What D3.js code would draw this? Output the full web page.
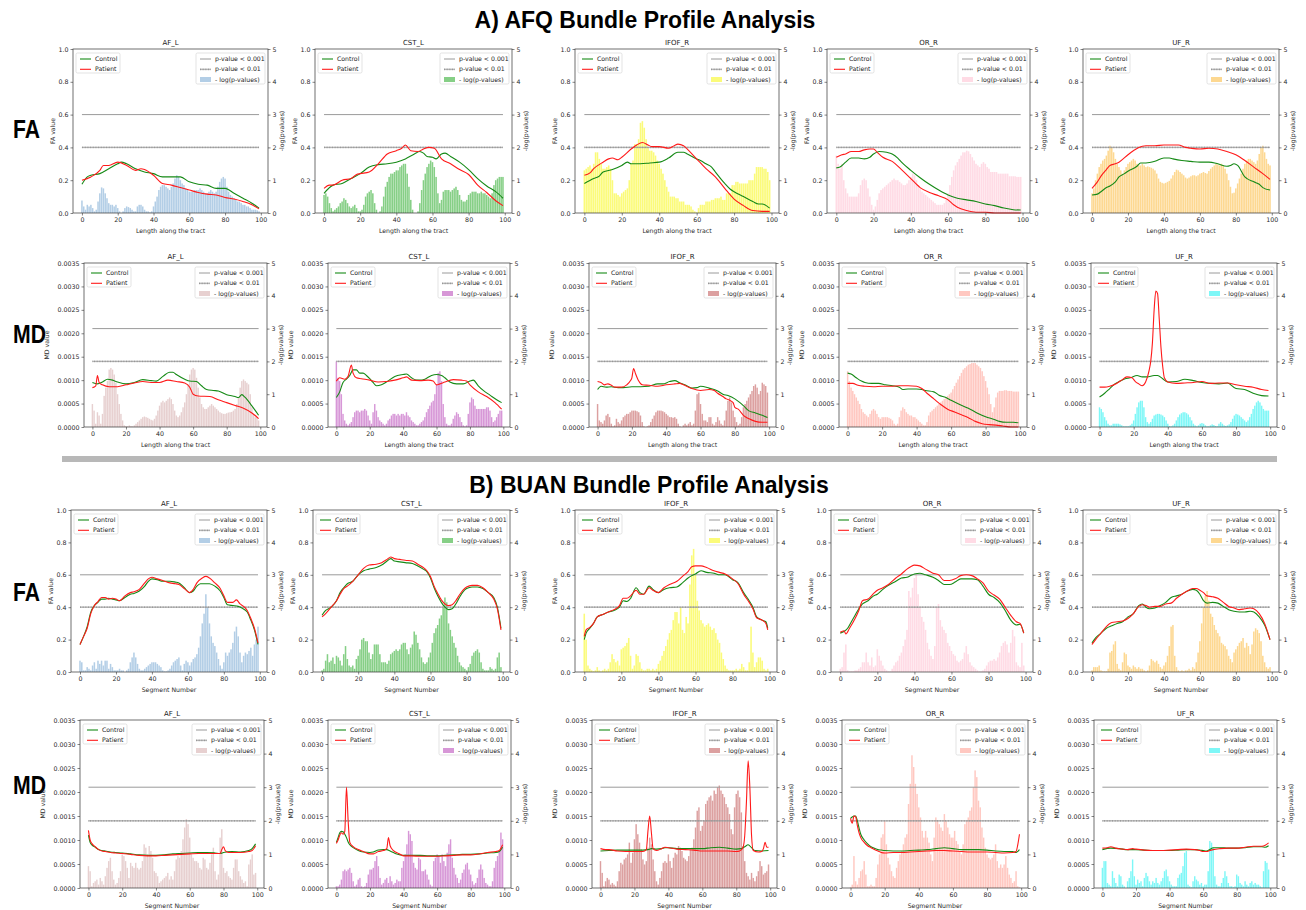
<!DOCTYPE html>
<html>
<head>
<meta charset="utf-8">
<script src="https://cdn.jsdelivr.net/npm/d3@7"></script>
<style>
  body { margin: 0; background: #fff; }
  text { font-family: "DejaVu Sans", sans-serif; }
</style>
</head>
<body>
<script>
"use strict";

const bundles = ["AF_L", "CST_L", "IFOF_R", "OR_R", "UF_R"];
const xTicks = [0, 20, 40, 60, 80, 100];
const faTicks = [0, 0.2, 0.4, 0.6, 0.8, 1.0];
const mdTicks = [0, 0.0005, 0.001, 0.0015, 0.002, 0.0025, 0.003, 0.0035];
const pTicks = [0, 1, 2, 3, 4, 5];
const pThresholds = [3, 2];          // -log10(0.001), -log10(0.01)
const MD_UNIT = 1e-3;                // MD profiles below are written in 1e-3 units

// -log(p) per segment (0..99)
const afqFaBars = [
  [0.38,0.2,0.1,0.25,0.2,0.25,0.15,0.05,0.1,0.35, 0.6,0.78,0.75,0.6,0.45,0.3,0.25,0.25,0.2,0.25,
   0.15,0.05,0,0.05,0.15,0.2,0.18,0.15,0.1,0.05, 0.05,0.2,0.25,0.25,0.2,0.1,0.05,0.05,0.02,0.05,
   0.2,0.35,0.5,0.7,0.8,0.85,0.85,0.8,0.75,0.7, 0.8,0.9,1.05,1.15,1.1,1.0,0.9,0.85,0.75,0.7,
   0.65,0.65,0.65,0.7,0.7,0.7,0.75,0.7,0.65,0.6, 0.6,0.65,0.7,0.65,0.6,0.65,0.8,0.95,1.05,1.1,
   1.05,0.8,0.65,0.55,0.5,0.45,0.4,0.35,0.35,0.3, 0.25,0.25,0.2,0.2,0.15,0.1,0.1,0.1,0.08,0.05],
  [0.55,0.6,0.5,0.3,0.15,0.05,0.1,0.15,0.2,0.3, 0.35,0.45,0.4,0.3,0.2,0.15,0.2,0.25,0.15,0.05,
   0.05,0.1,0.25,0.5,0.6,0.65,0.7,0.6,0.3,0.1, 0,0.05,0.2,0.5,0.8,0.95,1.1,1.2,1.2,1.25,
   1.3,1.3,1.4,1.45,1.5,1.5,1.2,0.8,0.4,0.1, 0,0,0.05,0.3,0.7,1.0,1.2,1.4,1.5,1.6,
   1.55,1.4,1.1,0.6,0.3,0.4,0.65,0.7,0.7,0.7, 0.65,0.7,0.75,0.8,0.7,0.55,0.4,0.35,0.35,0.4,
   0.55,0.6,0.65,0.65,0.65,0.6,0.6,0.65,0.6,0.6, 0.55,0.5,0.45,0.6,0.85,1.0,1.05,1.1,1.1,1.1],
  [1.3,1.35,1.4,1.45,1.35,1.5,1.85,1.85,1.65,1.5, 1.35,1.35,1.4,1.45,1.35,1.0,0.6,0.6,0.55,0.5,
   0.6,0.65,0.7,0.75,1.0,1.5,1.6,2.1,2.1,2.25, 2.75,2.8,2.6,2.25,2.0,1.9,1.9,1.85,1.75,1.6,
   1.5,1.35,1.2,1.0,0.8,0.65,0.5,0.5,0.5,0.45, 0.45,0.35,0.35,0.35,0.25,0.25,0.25,0.2,0.1,0.05,
   0.02,0.15,0.25,0.25,0.25,0.35,0.35,0.35,0.4,0.4, 0.45,0.45,0.45,0.5,0.4,0.4,0.6,0.6,0.6,0.85,
   0.85,0.95,0.95,0.9,0.9,0.9,0.9,0.9,1.0,1.0, 1.0,1.2,1.4,1.4,1.4,1.4,1.35,1.35,1.25,1.0],
  [1.75,1.5,1.35,1.5,1.0,0.75,0.6,0.5,0.5,0.5, 0.5,0.5,0.6,0.85,1.0,1.05,1.0,0.75,0.5,0.25,
   0.1,0.2,0.4,0.6,0.7,0.75,0.8,0.85,0.9,0.95, 1.0,1.05,1.0,1.0,0.95,0.9,0.85,0.85,0.9,1.0,
   1.1,1.2,1.15,1.0,0.85,0.75,0.65,0.6,0.55,0.5, 0.45,0.4,0.35,0.3,0.25,0.25,0.25,0.25,0.3,0.4,
   0.6,0.85,1.1,1.3,1.45,1.55,1.65,1.75,1.85,1.85, 1.9,1.88,1.8,1.7,1.6,1.5,1.45,1.4,1.5,1.55,
   1.5,1.4,1.35,1.25,1.25,1.25,1.25,1.2,1.2,1.2, 1.2,1.2,1.2,1.12,1.12,1.12,1.12,1.1,1.1,1.1],
  [0.6,0.75,1.0,1.2,1.4,1.5,1.6,1.65,1.75,1.9, 2.05,2.0,1.85,1.65,1.5,1.4,1.3,1.2,1.3,1.4,
   1.5,1.55,1.6,1.65,1.6,1.5,1.45,1.45,1.5,1.45, 1.4,1.42,1.4,1.38,1.35,1.3,1.2,1.05,0.95,0.92,
   0.9,0.92,0.95,0.98,1.05,1.15,1.25,1.32,1.3,1.25, 1.2,1.15,1.08,1.05,1.08,1.12,1.15,1.15,1.12,1.15,
   1.2,1.22,1.25,1.22,1.2,1.28,1.35,1.4,1.45,1.5, 1.48,1.45,1.5,1.45,1.35,1.2,1.0,0.8,0.6,0.62,
   0.75,0.9,1.05,1.2,1.35,1.5,1.6,1.65,1.65,1.6, 1.55,1.5,1.6,1.8,2.0,2.05,1.85,1.65,1.5,1.45]
];

const afqMdBars = [
  [0.7,0.5,0.1,0.45,0.35,0.1,0.4,0.95,1.2,1.4, 1.75,1.8,1.75,1.6,1.35,1.0,0.7,0.4,0.2,0.05,
   0.03,0.02,0.05,0.03,0.02,0.05,0.1,0.15,0.2,0.25, 0.3,0.32,0.3,0.28,0.25,0.22,0.2,0.25,0.35,0.5,
   0.65,0.75,0.8,0.75,0.8,0.85,0.9,0.85,0.7,0.5, 0.35,0.3,0.35,0.45,0.6,0.75,1.0,1.3,1.6,1.75,
   1.8,1.75,1.5,1.2,0.9,0.7,0.6,0.55,0.55,0.6, 0.65,0.7,0.65,0.6,0.55,0.5,0.45,0.42,0.4,0.4,
   0.42,0.44,0.45,0.46,0.5,0.55,0.7,0.9,1.2,1.4, 1.45,1.4,1.35,1.3,1.0,0.6,0.4,0.3,0.3,0.2],
  [2.0,1.5,1.4,1.0,0.4,0.2,0.1,0.05,0.1,0.15, 0.3,0.45,0.5,0.5,0.45,0.5,0.5,0.55,0.5,0.35,
   0.2,0.1,0.45,0.7,0.5,0.3,0.2,0.15,0.1,0.05, 0.1,0.2,0.25,0.35,0.4,0.4,0.35,0.4,0.35,0.4,
   0.4,0.35,0.45,0.35,0.3,0.2,0.15,0.1,0.05,0.05, 0.1,0.15,0.2,0.3,0.45,0.55,0.65,0.75,0.8,1.0,
   1.3,1.65,1.7,1.4,0.7,0.3,0.1,0.05,0.05,0.1, 0.25,0.35,0.45,0.4,0.3,0.15,0.05,0.02,0.05,0.4,
   0.75,0.9,0.85,0.65,0.55,0.55,0.55,0.55,0.55,0.55, 0.6,0.6,0.5,0.3,0.15,0.2,0.3,0.4,0.5,0.5],
  [0.7,0.2,0.15,0.1,0.2,0.35,0.4,0.3,0.1,0.02, 0.05,0.25,0.15,0.1,0.2,0.3,0.35,0.4,0.4,0.45,
   0.5,0.5,0.5,0.48,0.45,0.35,0.15,0.02,0,0.02, 0.05,0.15,0.25,0.35,0.45,0.5,0.5,0.5,0.48,0.45,
   0.4,0.35,0.3,0.3,0.28,0.3,0.25,0.1,0.02,0, 0.05,0.1,0.05,0.1,0.15,0.05,0.1,0.5,1.0,1.05,
   0.7,0.4,0.2,0.2,0.15,0.3,0.3,0.1,0.05,0.15, 0.3,0.2,0.1,0.05,0.2,0.5,0.8,0.9,0.75,0.5,
   0.3,0.15,0.05,0.1,0.3,0.6,0.7,0.8,0.9,1.0, 1.1,1.25,1.3,1.2,1.0,1.1,1.35,1.3,1.25,1.05],
  [1.7,1.4,1.2,1.1,1.0,0.9,0.8,0.7,0.55,0.45, 0.4,0.35,0.3,0.4,0.5,0.55,0.5,0.4,0.3,0.25,
   0.3,0.3,0.3,0.3,0.28,0.25,0.2,0.1,0.05,0.1, 0.3,0.5,0.6,0.55,0.45,0.4,0.35,0.35,0.3,0.3,
   0.25,0.2,0.15,0.1,0.05,0.05,0.15,0.35,0.45,0.5, 0.55,0.6,0.65,0.7,0.75,0.8,0.85,0.9,0.95,1.0,
   1.05,1.15,1.25,1.35,1.45,1.55,1.65,1.75,1.8,1.85, 1.9,1.92,1.95,1.95,1.95,1.9,1.85,1.8,1.7,1.55,
   1.4,1.2,1.0,0.7,0.45,0.6,0.9,1.05,1.1,1.1, 1.1,1.12,1.12,1.1,1.1,1.1,1.08,1.08,1.08,1.08],
  [0.6,0.55,0.45,0.3,0.2,0.1,0.05,0.05,0.1,0.1, 0.1,0.1,0.08,0.05,0.02,0.02,0.02,0.02,0.05,0.1,
   0.2,0.4,0.6,0.75,0.8,0.8,0.6,0.3,0.15,0.1, 0.15,0.25,0.35,0.38,0.4,0.4,0.38,0.35,0.3,0.2,
   0.1,0.03,0.02,0.05,0.1,0.2,0.3,0.38,0.42,0.45, 0.45,0.42,0.38,0.3,0.2,0.1,0.05,0.02,0.05,0.1,
   0.12,0.1,0.05,0.02,0.02,0.05,0.08,0.06,0.03,0.02, 0.1,0.15,0.1,0.05,0.03,0.05,0.08,0.15,0.25,0.35,
   0.4,0.38,0.35,0.3,0.25,0.2,0.15,0.2,0.3,0.4, 0.55,0.65,0.75,0.8,0.75,0.65,0.55,0.5,0.5,0.5]
];

const buanFaBars = [
  [0.35,0.3,0.05,0.05,0.15,0.1,0.05,0.2,0.3,0.1, 0.35,0.25,0.35,0.2,0.35,0.35,0.1,0.25,0.15,0.05,
   0.05,0.05,0.1,0.05,0.05,0,0.05,0.1,0.3,0.45, 0.6,0.45,0.25,0.1,0.05,0.05,0.1,0.15,0.2,0.25,
   0.3,0.3,0.3,0.25,0.2,0.15,0.05,0.02,0.02,0.05, 0.1,0.2,0.3,0.35,0.4,0.45,0.2,0.05,0.25,0.35,
   0.3,0.2,0.3,0.4,0.45,0.55,0.75,1.1,1.5,1.8, 2.4,2.0,1.5,1.1,0.9,0.8,0.6,0.4,0.2,0.1,
   0.3,0.6,0.5,0.6,0.7,0.9,1.25,1.4,1.1,0.6, 0.3,0.5,0.6,0.55,0.65,0.75,0.5,0.85,1.0,1.4],
  [0.05,0.1,0.35,0.55,0.3,0.35,0.45,0.25,0.5,0.45, 0.35,0.2,0.55,0.8,0.4,0.2,0.15,0.2,0.1,0.4,
   0.5,0.7,1.0,1.05,0.95,0.95,0.6,0.4,0.55,0.85, 0.85,0.85,0.55,0.3,0.3,0.3,0.25,0.35,0.55,0.6,
   0.65,0.7,0.65,0.7,0.85,0.9,0.9,0.7,0.55,0.75, 0.85,1.25,1.15,0.9,0.7,0.45,0.3,0.25,0.3,0.45,
   0.6,0.9,1.2,1.35,1.45,1.65,1.75,2.0,2.3,2.15, 1.5,1.3,1.1,0.9,0.75,0.5,0.3,0.2,0.15,0.1,
   0.05,0.15,0.25,0.5,0.6,0.65,0.7,0.6,0.3,0.1, 0.05,0.05,0.05,0.15,0.1,0.05,0.1,0.45,0.6,0.15],
  [1.8,1.0,0.2,0.1,0.05,0.02,0.05,0.15,0.05,0.02, 0.05,0.1,0.05,0.1,0.3,0.55,0.4,0.3,0.35,0.2,
   0.7,0.75,0.8,0.9,1.05,0.5,0.1,0.2,0.55,0.5, 0.3,0.1,0.05,0.05,0.1,0.1,0.05,0.1,0.05,0.1,
   0.25,0.35,0.5,0.65,0.8,1.0,1.2,1.3,1.6,1.85, 1.85,1.5,2.0,1.3,1.2,1.7,1.5,2.7,3.6,3.8,
   3.0,2.2,1.9,1.6,1.5,1.4,1.45,1.5,1.4,1.3, 1.35,1.2,1.0,0.9,0.6,0.4,0.2,0.1,0.05,0.05,
   0.05,0.05,0.1,0.05,0.1,0.25,0.15,0.05,0.05,0.3, 1.4,0.6,0.15,0.3,0.45,0.45,0.35,0.1,0.05,0.1],
  [0.1,0.15,0.6,0.85,0.05,0.02,0.02,0.02,0.05,0.05, 0.1,0.15,0.3,0.3,0.6,0.3,0.2,0.45,0.15,0.2,
   0.7,0.5,0.35,0.2,0.1,0.05,0.02,0.02,0.1,0.2, 0.3,0.35,0.5,0.6,0.8,1.0,1.3,2.5,2.3,2.6,
   2.9,3.0,2.4,2.0,1.7,1.55,1.3,0.9,0.7,0.5, 0.4,0.8,2.0,2.1,1.6,1.4,1.3,1.2,0.9,0.8,
   0.65,0.55,0.5,0.35,0.3,0.35,0.4,0.6,0.8,0.55, 0.3,0.2,0.15,0.1,0.05,0.02,0.02,0.05,0.1,0.2,
   0.3,0.35,0.35,0.4,0.35,0.45,0.6,0.8,0.9,0.95, 0.85,0.6,0.9,1.3,1.1,0.3,0.2,0.15,0.9,0.2],
  [0.05,0.15,0.15,0.15,0.2,0.05,0.02,0.02,0.02,0.1, 0.6,0.65,0.85,0.95,0.25,0.1,0.05,0.3,0.6,0.55,
   0.2,0.15,0.1,0.2,0.15,0.1,0.15,0.1,0.1,0.05, 0.02,0.05,0.2,0.4,0.35,0.3,0.35,0.25,0.15,0.1,
   0.2,0.3,0.5,0.8,1.4,1.45,0.5,0.15,0.05,0.02, 0.05,0.02,0.05,0.05,0.1,0.05,0.15,0.1,0.3,0.6,
   0.95,1.5,2.0,2.35,2.5,2.2,1.8,1.7,1.45,1.3, 1.2,1.1,0.9,0.85,0.8,0.7,0.5,0.4,0.3,0.6,
   0.7,0.8,0.9,0.95,1.05,0.75,0.9,0.8,0.55,0.85, 1.25,1.35,1.3,1.2,0.95,0.5,0.3,0.15,0.1,0.15]
];

const buanMdBars = [
  [0.65,0.5,0.05,0.15,0.2,0.25,0.1,0.3,0.2,0.1, 0.35,0.6,0.8,0.9,0.5,0.25,0.1,0.15,0.3,0.5,
   1.0,0.95,0.8,0.6,0.3,0.75,0.65,0.6,0.75,0.6, 0.55,0.6,0.8,1.3,1.2,1.0,1.25,1.1,0.9,0.5,
   0.45,0.35,0.15,0.2,0.25,0.3,0.35,0.45,0.25,0.35, 0.25,0.5,0.85,0.95,0.9,1.1,1.45,1.8,2.05,1.9,
   1.5,1.0,0.9,0.8,0.8,0.75,0.6,0.55,0.9,0.85, 0.6,0.55,0.75,1.0,1.2,0.5,0.25,0.4,1.5,1.75,
   0.6,0.45,0.5,0.35,0.3,0.25,0.6,0.85,0.85,0.5, 0.35,0.25,0.15,0.2,0.05,0.7,0.85,1.0,0.4,0.45],
  [0.05,0.05,0.1,0.25,0.5,0.55,0.5,0.55,0.6,0.45, 0.2,0.05,0.1,0.25,0.3,0.05,0.02,0.05,0.15,0.4,
   0.55,0.55,0.6,0.8,0.95,0.65,0.3,0.1,0.15,0.25, 0.3,0.15,0.35,0.2,0.1,0.15,0.25,0.2,0.2,0.6,
   0.8,1.0,1.3,1.7,1.6,1.4,0.75,0.6,0.55,0.9, 0.85,0.5,0.5,0.55,0.4,0.25,0.1,0.05,0.8,0.9,
   1.0,0.95,0.75,1.0,0.8,0.65,1.05,1.3,1.45,0.9, 0.6,0.4,0.3,0.15,0.25,0.45,0.55,0.7,0.75,0.55,
   0.4,0.2,0.1,0.15,0.3,0.55,0.7,0.55,0.3,0.15, 0.1,0.05,0.05,0.2,0.6,0.8,0.95,1.1,1.65,1.45],
  [0.8,0.45,0.05,0.2,0.3,0.25,0.1,0.15,0.1,0.05, 0.2,0.5,0.75,0.7,0.85,0.9,1.0,1.35,0.75,1.05,
   1.45,1.9,1.6,1.35,1.15,0.85,0.7,0.8,1.2,1.5, 1.3,0.85,0.5,0.2,0.1,0.3,0.5,0.75,0.8,0.75,
   1.0,0.8,0.6,0.9,1.05,1.0,1.25,1.2,1.1,0.9, 0.85,0.8,0.95,1.15,1.2,1.45,1.8,2.3,2.4,1.7,
   1.85,2.0,2.5,2.6,2.7,2.75,2.6,2.9,2.8,3.0, 3.05,2.9,2.8,2.7,2.5,2.4,2.2,1.75,1.6,2.4,
   2.8,2.9,2.7,2.25,1.25,0.8,0.45,0.35,0.25,0.45, 0.3,0.2,0.35,0.5,0.8,0.65,0.4,0.45,0.5,0.7],
  [0.02,0.1,0.95,0.2,0.1,0.3,0.5,0.55,0.8,0.4, 0.05,0.05,0.1,0.05,0.05,0.3,0.7,1.0,1.5,1.6,
   2.0,1.3,0.9,0.7,0.5,0.35,0.3,0.6,0.8,1.0, 1.1,1.3,1.5,1.6,2.5,3.1,3.95,3.6,3.1,2.8,
   2.4,2.1,1.7,1.5,1.7,1.5,1.35,1.0,0.8,1.5, 2.1,2.0,1.9,1.8,1.7,2.2,2.0,1.8,1.6,1.5,
   1.5,1.7,1.4,1.3,1.1,1.0,1.3,1.9,2.0,2.1, 2.3,2.4,3.0,3.5,3.3,2.6,2.4,1.8,1.5,1.2,
   1.0,0.9,0.85,0.9,1.0,1.3,0.8,0.6,0.7,0.6, 0.7,0.95,0.6,0.4,0.3,0.15,0.2,0.5,0.05,0.02],
  [0.6,0.8,0.8,0.15,0.1,0.05,0.5,0.3,0.15,0.05, 0.4,0.35,0.1,0.05,0,0.2,0.3,0.5,0.85,0.35,
   0.1,0.25,0.15,0.2,0.05,0.3,0.45,0.35,0.2,0.1, 0.2,0.15,0.3,0.15,0.1,0.2,0.3,0.5,0.55,0.35,
   0.2,0.1,0.05,0.05,0.05,0.3,0.4,0.45,0.65,1.05, 1.1,0.1,0.05,0.02,0.2,0.35,0.25,0.2,0.1,0.15,
   0.05,0.1,0.1,0.5,1.4,1.35,1.2,0.35,0.1,0.05, 0.05,0.15,0.3,0.5,0.35,0.15,0.05,0.05,0.02,0.05,
   0.4,0.35,0.15,0.1,0.05,0.2,0.1,0.05,0.15,0.2, 0.1,0.15,0.1,0.1,0.05,0.02,0.5,0.8,0.75,0.55]
];

// profiles as x,y pairs (segment, value)
const afqFaControl = [
  [0,.175,3,.22,5,.23,10,.24,15,.27,20,.30,22,.31,25,.30,30,.27,35,.25,40,.24,45,.22,50,.22,55,.22,60,.19,65,.175,70,.17,75,.15,80,.15,85,.12,90,.09,95,.06,99,.03],
  [0,.12,5,.17,10,.18,15,.21,20,.24,25,.28,30,.295,35,.30,40,.31,45,.33,50,.36,53,.375,55,.365,57,.345,60,.34,62,.33,65,.36,67,.365,70,.345,75,.31,80,.265,85,.21,90,.165,95,.13,99,.09],
  [0,.18,5,.21,8,.225,10,.25,15,.265,20,.29,23,.31,25,.30,30,.30,35,.305,40,.31,45,.335,50,.37,53,.37,55,.36,60,.33,62,.32,65,.30,68,.28,70,.25,75,.18,78,.145,80,.13,85,.10,90,.07,93,.055,95,.055,99,.03],
  [0,.275,2,.28,5,.31,8,.335,12,.335,15,.33,18,.34,20,.36,23,.375,27,.37,30,.36,33,.335,35,.31,40,.26,45,.215,50,.175,55,.14,60,.11,65,.09,70,.08,75,.07,80,.055,85,.045,90,.03,95,.02,99,.018],
  [0,.11,3,.115,5,.13,8,.155,10,.165,13,.19,15,.22,18,.24,20,.255,25,.285,27,.305,30,.305,35,.315,40,.335,43,.335,45,.33,50,.32,55,.315,60,.31,65,.31,70,.30,75,.285,77,.29,79,.30,81,.29,85,.22,90,.19,93,.175,95,.155,99,.14]
];
const afqFaPatient = [
  [0,.2,5,.22,10,.26,12,.29,15,.29,20,.31,25,.29,30,.26,33,.27,35,.265,40,.23,45,.18,50,.17,55,.155,60,.14,65,.125,70,.115,75,.11,80,.095,85,.085,90,.07,95,.05,99,.025],
  [0,.15,3,.17,5,.17,10,.20,15,.21,18,.235,20,.24,25,.25,30,.30,35,.36,40,.38,43,.395,45,.415,48,.38,52,.375,55,.39,58,.40,61,.395,65,.33,70,.30,75,.265,80,.235,85,.17,90,.125,95,.075,99,.045],
  [0,.23,3,.245,5,.27,10,.31,13,.33,15,.335,18,.325,20,.34,25,.39,28,.415,31,.43,34,.415,36,.405,40,.405,45,.395,48,.41,50,.42,53,.41,55,.39,60,.33,65,.27,70,.22,75,.15,80,.085,85,.045,90,.015,95,.01,99,.01],
  [0,.34,3,.355,5,.36,8,.375,12,.375,15,.385,18,.39,20,.39,22,.37,25,.34,30,.315,35,.265,40,.21,45,.155,50,.125,55,.105,60,.08,63,.05,65,.035,70,.015,75,.005,80,.005,85,0,90,0,99,0],
  [0,.15,3,.19,5,.225,8,.265,10,.29,13,.30,15,.31,20,.355,23,.38,26,.40,30,.41,35,.41,40,.415,45,.415,48,.415,52,.40,55,.395,60,.39,65,.395,70,.39,75,.375,80,.355,85,.32,90,.28,95,.24,99,.205]
];
const afqMdControl = [
  [0,.95,3,.92,6,.96,9,1.02,12,1.0,15,.96,20,.92,25,.95,30,1.01,35,.99,38,.98,42,1.08,46,1.17,48,1.17,50,1.12,55,1.02,58,.98,62,.97,65,.88,68,.8,72,.78,75,.77,80,.69,85,.65,87,.63,89,.69,91,.63,95,.45,99,.25],
  [0,.63,2,.75,4,.95,6,1.02,8,1.1,10,1.22,12,1.22,14,1.15,16,1.15,18,1.1,20,1.03,22,.95,24,.88,27,.9,30,.96,35,1.08,40,1.12,42,1.13,45,1.05,48,1.0,50,1.0,53,1.02,57,1.1,60,1.12,63,1.1,65,1.05,68,.96,72,.92,76,.92,80,.98,82,1.0,85,.88,88,.78,92,.68,96,.58,99,.52],
  [0,.8,2,.87,5,.85,8,.86,12,.84,15,.84,20,.86,25,.86,30,.87,35,.92,38,.92,42,.97,45,.99,48,.94,52,.88,55,.83,58,.84,60,.87,65,.83,70,.77,73,.7,76,.67,80,.6,83,.52,86,.42,88,.35,92,.3,96,.25,99,.2],
  [0,1.15,2,1.13,5,1.05,8,.98,10,.95,14,.93,18,.93,22,.9,26,.88,30,.85,32,.8,35,.81,40,.81,43,.8,45,.78,50,.75,53,.68,57,.63,60,.57,65,.48,70,.4,75,.3,80,.22,85,.16,88,.12,92,.1,96,.1,99,.09],
  [0,.64,3,.72,6,.82,9,.92,12,.98,15,1.03,18,1.05,22,1.1,25,1.07,28,1.07,32,1.1,34,1.1,37,1.03,40,.96,45,.97,50,1.02,55,.99,60,.95,65,.93,70,.92,75,.94,80,.82,85,.8,90,.72,95,.67,99,.66]
];
const afqMdPatient = [
  [0,.84,2,.88,3,1.1,4,.95,6,.9,10,.86,15,.86,20,.9,25,.94,30,.97,35,.95,40,.95,45,1.0,50,.97,55,.94,58,.85,60,.7,63,.66,70,.65,75,.58,80,.52,85,.46,90,.4,95,.3,99,.18],
  [0,.98,2,1.05,5,1.02,7,1.08,9,1.32,10,1.15,12,1.05,15,1.03,20,1.0,25,.96,30,.97,35,1.0,40,1.05,42,1.07,45,1.0,50,.99,55,1.0,58,.98,60,.9,62,.92,65,.96,70,1.01,75,1.0,78,.98,80,.9,85,.75,90,.65,95,.52,99,.38],
  [0,.97,2,.95,4,.9,6,.92,8,.89,10,.85,14,.85,17,.9,19,.98,20,1.05,21,1.25,22,1.15,24,.98,26,.9,30,.89,35,.87,40,.9,45,.92,48,.93,50,.9,55,.82,60,.78,65,.8,68,.78,70,.72,73,.65,75,.6,77,.57,79,.52,80,.42,82,.38,85,.25,88,.18,92,.12,96,.1,99,.1],
  [0,.93,3,.93,6,.89,10,.87,15,.86,20,.87,25,.87,30,.88,35,.88,40,.87,43,.82,46,.72,50,.6,54,.48,58,.38,62,.32,66,.26,70,.2,74,.12,78,.07,82,.05,86,.04,90,.02,95,0,99,0],
  [0,.85,3,.85,6,.87,10,.93,13,1.0,16,1.07,19,1.05,21,.97,23,.92,25,.88,27,.96,29,1.2,30,1.4,31,1.8,32,2.5,33,2.9,34,2.85,35,2.3,36,1.7,37,1.3,38,1.05,40,.96,45,.93,50,.94,55,.95,60,.97,65,.93,70,.94,75,.94,80,.9,85,.87,90,.85,95,.8,99,.78]
];
const buanFaControl = [
  [0,.17,2,.22,4,.28,6,.37,8,.41,10,.43,12,.45,14,.45,16,.455,18,.45,20,.445,22,.44,25,.46,28,.48,30,.485,33,.50,36,.53,38,.56,40,.575,43,.57,46,.56,50,.56,53,.555,55,.55,58,.52,61,.49,63,.50,65,.53,67,.545,70,.545,72,.545,75,.53,78,.5,80,.46,82,.415,85,.41,88,.405,90,.395,93,.37,95,.32,97,.26,99,.17],
  [0,.35,2,.38,5,.40,8,.44,10,.49,12,.52,14,.545,17,.56,20,.60,23,.625,26,.635,30,.645,33,.66,36,.685,38,.70,40,.685,43,.68,46,.675,50,.67,53,.655,56,.635,58,.62,60,.58,62,.52,64,.47,66,.43,68,.40,70,.385,72,.39,74,.42,76,.46,78,.495,80,.515,83,.525,86,.525,89,.515,92,.49,95,.46,97,.40,99,.27],
  [0,.2,1,.24,3,.27,5,.30,7,.34,10,.355,13,.37,16,.38,19,.40,21,.44,23,.435,25,.455,28,.52,30,.49,32,.48,35,.53,37,.51,40,.49,43,.51,46,.52,50,.525,53,.55,56,.58,58,.595,60,.605,63,.625,66,.615,70,.61,73,.60,76,.60,80,.57,83,.55,86,.49,89,.44,91,.40,93,.34,96,.32,98,.31,99,.27],
  [0,.24,2,.25,4,.27,6,.31,8,.35,10,.39,12,.42,15,.44,18,.47,20,.48,23,.51,26,.535,30,.56,33,.58,36,.585,38,.595,40,.605,43,.61,46,.60,50,.585,53,.565,56,.54,59,.54,62,.555,65,.575,68,.575,71,.575,74,.57,77,.53,80,.48,83,.46,86,.43,89,.38,92,.32,95,.29,97,.295,99,.24],
  [0,.18,2,.21,5,.24,8,.27,11,.285,14,.30,17,.31,20,.34,23,.36,26,.41,28,.42,30,.40,32,.39,35,.395,38,.41,41,.43,44,.46,47,.47,50,.48,53,.50,56,.51,58,.505,60,.48,62,.44,64,.425,67,.43,70,.425,73,.405,76,.385,79,.375,82,.37,85,.37,88,.375,90,.37,93,.34,96,.29,99,.2]
];
const buanFaPatient = [
  [0,.17,2,.22,4,.27,6,.36,8,.41,10,.435,12,.46,14,.46,16,.45,18,.455,20,.45,22,.44,25,.47,28,.49,30,.495,33,.51,36,.55,38,.575,40,.585,43,.575,46,.565,50,.55,53,.545,55,.54,58,.515,61,.49,63,.51,65,.55,68,.58,70,.59,72,.58,75,.55,78,.515,80,.47,82,.43,85,.43,87,.445,89,.42,91,.405,93,.38,95,.33,97,.27,99,.18],
  [0,.34,2,.36,5,.40,8,.44,10,.48,12,.515,14,.53,17,.56,20,.60,23,.64,26,.66,30,.665,33,.675,36,.695,38,.71,40,.70,43,.695,46,.69,50,.685,53,.665,56,.645,58,.625,60,.59,62,.53,64,.485,66,.445,68,.42,70,.41,72,.415,74,.44,76,.475,78,.505,80,.525,83,.535,86,.535,89,.52,92,.49,95,.45,97,.39,99,.26],
  [0,.22,1,.26,3,.275,5,.30,7,.34,10,.355,13,.37,16,.385,19,.41,21,.455,23,.455,25,.47,28,.505,30,.48,32,.48,35,.52,37,.505,40,.49,43,.52,46,.54,50,.56,53,.59,56,.62,58,.65,60,.655,63,.655,66,.645,70,.625,73,.615,76,.605,80,.575,83,.545,86,.48,89,.43,91,.39,93,.335,96,.32,98,.3,99,.26],
  [0,.245,2,.255,3,.235,5,.27,8,.33,10,.38,12,.44,15,.45,18,.485,20,.505,23,.52,26,.54,30,.58,33,.605,36,.635,38,.65,40,.66,43,.655,46,.635,50,.61,53,.60,56,.565,59,.565,62,.575,65,.595,68,.60,71,.595,74,.575,77,.55,80,.50,83,.475,86,.45,89,.40,92,.35,95,.31,97,.30,99,.24],
  [0,.17,2,.2,5,.24,8,.28,11,.305,14,.31,17,.315,20,.33,23,.36,26,.405,28,.415,30,.41,32,.40,35,.405,38,.405,41,.42,44,.425,47,.455,50,.48,53,.50,56,.515,58,.515,60,.505,62,.49,64,.47,67,.465,70,.455,73,.43,76,.405,79,.395,82,.385,85,.39,88,.395,90,.39,93,.36,96,.30,99,.2]
];
const buanMdControl = [
  [0,1.1,1,.95,2,.9,4,.85,6,.8,8,.78,10,.77,13,.75,16,.74,20,.73,25,.71,30,.69,35,.68,40,.68,45,.69,50,.71,55,.72,60,.73,65,.74,70,.74,75,.73,78,.72,80,.74,85,.76,90,.75,95,.78,97,.82,99,.92],
  [0,.95,1,1.05,2,1.15,3,1.18,4,1.17,5,1.12,6,1.05,7,.96,8,.9,10,.84,13,.78,16,.75,20,.74,22,.75,25,.79,28,.8,30,.8,32,.77,35,.72,38,.69,40,.68,45,.68,50,.68,55,.67,60,.67,65,.68,70,.69,75,.7,80,.7,85,.71,90,.73,95,.74,97,.76,99,.85],
  [0,.77,5,.78,10,.79,15,.79,20,.79,25,.79,28,.8,30,.82,33,.81,36,.82,38,.84,40,.84,45,.82,50,.82,55,.82,60,.82,65,.84,70,.85,75,.83,80,.81,83,.82,85,.86,87,.9,89,.84,91,.78,95,.77,99,.78],
  [0,1.45,1,1.48,2,1.5,3,1.5,4,1.4,5,1.25,6,1.12,8,1.0,10,.92,12,.86,14,.83,16,.8,18,.79,20,.78,25,.77,30,.77,35,.78,40,.79,45,.8,50,.82,55,.84,60,.82,65,.8,70,.8,75,.8,80,.79,85,.77,90,.76,95,.76,97,.74,99,.8],
  [0,.8,5,.83,10,.82,15,.8,20,.8,25,.79,30,.78,35,.78,40,.78,45,.79,50,.8,55,.8,58,.79,60,.78,62,.77,64,.8,66,.84,70,.84,75,.83,80,.83,85,.84,90,.86,95,.86,97,.85,99,.88]
];
const buanMdPatient = [
  [0,1.2,1,1.0,2,.93,4,.86,6,.8,8,.77,10,.76,13,.74,16,.73,20,.72,25,.7,30,.68,35,.67,40,.67,45,.68,50,.69,55,.7,60,.71,65,.72,70,.72,75,.72,78,.72,79,.8,80,.86,81,.78,83,.74,85,.74,90,.74,95,.76,97,.78,99,.88],
  [0,.93,1,1.0,2,1.1,3,1.15,4,1.12,5,1.18,6,2.1,7,1.4,8,.95,10,.86,13,.8,16,.76,20,.71,22,.71,25,.76,28,.78,30,.82,31,1.05,32,.88,34,.78,37,.72,40,.67,45,.67,50,.66,55,.66,60,.66,65,.67,70,.68,75,.69,80,.69,85,.71,90,.74,95,.76,97,.78,99,.9],
  [0,.82,3,.8,5,.8,10,.77,15,.76,20,.76,25,.76,27,.8,28,1.2,29,1.5,30,1.15,31,.82,33,.78,36,.82,38,.85,40,.84,45,.81,50,.8,55,.79,60,.77,65,.77,70,.77,75,.77,80,.76,82,.77,84,.85,85,1.1,86,1.8,87,2.65,88,2.1,89,1.1,90,.78,93,.75,95,.76,96,.82,97,.95,98,.85,99,.85],
  [0,1.45,1,1.35,2,1.5,3,1.48,4,1.3,5,1.15,6,1.05,8,.95,10,.88,12,.84,14,.8,16,.77,18,.74,20,.73,25,.74,30,.74,35,.75,40,.76,45,.77,50,.78,55,.78,60,.77,65,.76,70,.75,75,.75,80,.75,85,.74,90,.73,95,.74,97,.76,98,.9,99,1.12],
  [0,.83,3,.84,5,.86,8,.83,12,.81,15,.8,18,.82,20,.81,25,.79,30,.78,35,.78,40,.79,45,.8,50,.81,55,.8,58,.78,60,.76,62,.76,64,.78,66,.8,70,.82,75,.83,80,.83,85,.85,90,.87,95,.87,97,.89,99,.94]
];

const faColors = ["#b3cee6", "#86cf86", "#fbfb7a", "#ffdbe5", "#fdd891"];
const mdColors = ["#e7d0d0", "#d797d7", "#dca0a0", "#ffc8c1", "#7ef7f7"];

const toPts = a => d3.range(0, a.length, 2).map(k => [a[k], a[k + 1]]);

const svg = d3.select("body").append("svg")
    .attr("width", 1306)
    .attr("height", 910);

const rows = [
  { tag: "FA", tagY: 138, tagW: 27, bars: afqFaBars, ctrl: afqFaControl, pat: afqFaPatient, colors: faColors,
    unit: 1, yMax: 1, yTicks: faTicks, fmt: d3.format(".1f"), yLabel: "FA value", yLabelOff: 20,
    xLabel: "Length along the tract", top: 49, bottom: 213,
    frames: [[73, 268], [315, 512], [575, 779], [827, 1030], [1083, 1279]] },
  { tag: "MD", tagY: 343, tagW: 33, bars: afqMdBars, ctrl: afqMdControl, pat: afqMdPatient, colors: mdColors,
    unit: MD_UNIT, yMax: 0.0035, yTicks: mdTicks, fmt: d3.format(".4f"), yLabel: "MD value", yLabelOff: 37,
    xLabel: "Length along the tract", top: 263, bottom: 427,
    frames: [[84, 267], [328, 510], [589, 776], [839, 1027], [1091, 1277]] },
  { tag: "FA", tagY: 601, tagW: 27, bars: buanFaBars, ctrl: buanFaControl, pat: buanFaPatient, colors: faColors,
    unit: 1, yMax: 1, yTicks: faTicks, fmt: d3.format(".1f"), yLabel: "FA value", yLabelOff: 20,
    xLabel: "Segment Number", top: 510, bottom: 672,
    frames: [[71, 267], [313, 510], [575, 777], [831, 1033], [1083, 1279]] },
  { tag: "MD", tagY: 794, tagW: 33, bars: buanMdBars, ctrl: buanMdControl, pat: buanMdPatient, colors: mdColors,
    unit: MD_UNIT, yMax: 0.0035, yTicks: mdTicks, fmt: d3.format(".4f"), yLabel: "MD value", yLabelOff: 37,
    xLabel: "Segment Number", top: 720, bottom: 888,
    frames: [[80, 264], [328, 511], [592, 777], [842, 1028], [1094, 1277]] }
];

// headings
svg.append("text").attr("x", 645).attr("y", 28).attr("text-anchor", "middle")
    .style("font-family", "'Liberation Sans', Arial, sans-serif").style("font-weight", "bold").style("font-size", "23px")
    .text("A) AFQ Bundle Profile Analysis");
svg.append("text").attr("x", 649).attr("y", 493).attr("text-anchor", "middle")
    .style("font-family", "'Liberation Sans', Arial, sans-serif").style("font-weight", "bold").style("font-size", "23px")
    .text("B) BUAN Bundle Profile Analysis");
svg.append("rect").attr("x", 62).attr("y", 456).attr("width", 1215).attr("height", 6).attr("fill", "#b8b8b8");

function drawThreshold(g, x1, x2, yy, dotted) {
  if (dotted) {
    g.append("line").attr("x1", x1).attr("x2", x2).attr("y1", yy).attr("y2", yy)
        .attr("stroke", "#a8a8a8").attr("stroke-width", 1.8).attr("stroke-dasharray", "1,0.6");
    g.append("line").attr("x1", x1).attr("x2", x2).attr("y1", yy).attr("y2", yy)
        .attr("stroke", "#808080").attr("stroke-width", 0.5);
  } else {
    g.append("line").attr("x1", x1).attr("x2", x2).attr("y1", yy).attr("y2", yy)
        .attr("stroke", "#9a9a9a").attr("stroke-width", 1);
  }
}

function legendBox(g, x0, y0, w, h) {
  g.append("rect").attr("x", x0).attr("y", y0).attr("width", w).attr("height", h)
      .attr("rx", 1.5).attr("fill", "#fff").attr("fill-opacity", 0.85)
      .attr("stroke", "#d0d0d0").attr("stroke-width", 0.6);
}

function legendText(g, x0, yy, s) {
  g.append("text").attr("x", x0).attr("y", yy).attr("dy", "0.35em")
      .style("font-size", "6.2px").attr("fill", "#222").text(s);
}

function drawPanel(row, i) {
  const [left, right] = row.frames[i];
  const x = d3.scaleLinear().domain([-5, 104]).range([left, right]);
  const y = d3.scaleLinear().domain([0, row.yMax]).range([row.bottom, row.top]);
  const yp = d3.scaleLinear().domain([0, 5]).range([row.bottom, row.top]);
  const g = svg.append("g");

  const bw = (x(1) - x(0)) * 0.85;
  g.selectAll("rect.bar").data(row.bars[i]).join("rect")
      .attr("class", "bar")
      .attr("x", (d, k) => x(k) - bw / 2)
      .attr("y", d => yp(d))
      .attr("width", bw)
      .attr("height", d => yp(0) - yp(d))
      .attr("fill", row.colors[i]);

  drawThreshold(g, x(0), x(99), yp(pThresholds[0]), false);
  drawThreshold(g, x(0), x(99), yp(pThresholds[1]), true);

  const line = d3.line()
      .x(d => x(d[0]))
      .y(d => y(d[1] * row.unit))
      .curve(d3.curveMonotoneX);
  g.append("path").datum(toPts(row.ctrl[i])).attr("d", line)
      .attr("fill", "none").attr("stroke", "#168a16").attr("stroke-width", 1.1);
  g.append("path").datum(toPts(row.pat[i])).attr("d", line)
      .attr("fill", "none").attr("stroke", "#ff1a1a").attr("stroke-width", 1.1);

  g.append("rect").attr("x", left).attr("y", row.top)
      .attr("width", right - left).attr("height", row.bottom - row.top)
      .attr("fill", "none").attr("stroke", "#333").attr("stroke-width", 0.7);

  const xAxis = g.append("g").attr("transform", `translate(0,${row.bottom})`)
      .call(d3.axisBottom(x).tickValues(xTicks).tickSize(2.5).tickPadding(2));
  const yAxis = g.append("g").attr("transform", `translate(${left},0)`)
      .call(d3.axisLeft(y).tickValues(row.yTicks).tickFormat(row.fmt).tickSize(2.5).tickPadding(2));
  const pAxis = g.append("g").attr("transform", `translate(${right},0)`)
      .call(d3.axisRight(yp).tickValues(pTicks).tickFormat(d3.format("d")).tickSize(2.5).tickPadding(2));
  [xAxis, yAxis, pAxis].forEach(a => {
    a.select(".domain").remove();
    a.selectAll("line").attr("stroke", "#333").attr("stroke-width", 0.6);
    a.selectAll("text").style("font-size", "6.3px").style("font-family", "'DejaVu Sans', sans-serif").attr("fill", "#2a2a2a");
  });

  const cx = (left + right) / 2, cy = (row.top + row.bottom) / 2;
  g.append("text").attr("x", cx).attr("y", row.top - 4).attr("text-anchor", "middle")
      .style("font-size", "7px").attr("fill", "#222").text(bundles[i]);
  g.append("text").attr("x", cx).attr("y", row.bottom + 20).attr("text-anchor", "middle")
      .style("font-size", "6.2px").attr("fill", "#2a2a2a").text(row.xLabel);
  g.append("text").attr("transform", `translate(${left - row.yLabelOff},${cy})rotate(-90)`)
      .attr("text-anchor", "middle").attr("dy", "0.35em")
      .style("font-size", "6.2px").attr("fill", "#2a2a2a").text(row.yLabel);
  g.append("text").attr("transform", `translate(${right + 14},${cy})rotate(-90)`)
      .attr("text-anchor", "middle").attr("dy", "0.35em")
      .style("font-size", "6.2px").attr("fill", "#2a2a2a").text("-log(pvalues)");

  // group legend
  const lx = left + 3, ly = row.top + 4;
  legendBox(g, lx, ly, 44, 20);
  [["Control", "#168a16"], ["Patient", "#ff1a1a"]].forEach(([s, c], k) => {
    const yy = ly + 6 + k * 10.3;
    g.append("line").attr("x1", lx + 4).attr("x2", lx + 15).attr("y1", yy).attr("y2", yy)
        .attr("stroke", c).attr("stroke-width", 1.1);
    legendText(g, lx + 19, yy, s);
  });

  // significance legend
  const rx = right - 72, ry = row.top + 4;
  legendBox(g, rx, ry, 69, 31);
  drawThreshold(g, rx + 4, rx + 15, ry + 6, false);
  legendText(g, rx + 19, ry + 6, "p-value < 0.001");
  drawThreshold(g, rx + 4, rx + 15, ry + 16.3, true);
  legendText(g, rx + 19, ry + 16.3, "p-value < 0.01");
  g.append("rect").attr("x", rx + 4).attr("y", ry + 24).attr("width", 11).attr("height", 5)
      .attr("fill", row.colors[i]);
  legendText(g, rx + 19, ry + 26.6, "- log(p-values)");
}

rows.forEach(row => {
  svg.append("text").attr("x", 13).attr("y", row.tagY)
      .attr("textLength", row.tagW).attr("lengthAdjust", "spacingAndGlyphs")
      .style("font-family", "'Liberation Sans', Arial, sans-serif").style("font-weight", "bold")
      .style("font-size", "25px").attr("fill", "#000").text(row.tag);
  bundles.forEach((b, i) => drawPanel(row, i));
});
</script>
</body>
</html>
